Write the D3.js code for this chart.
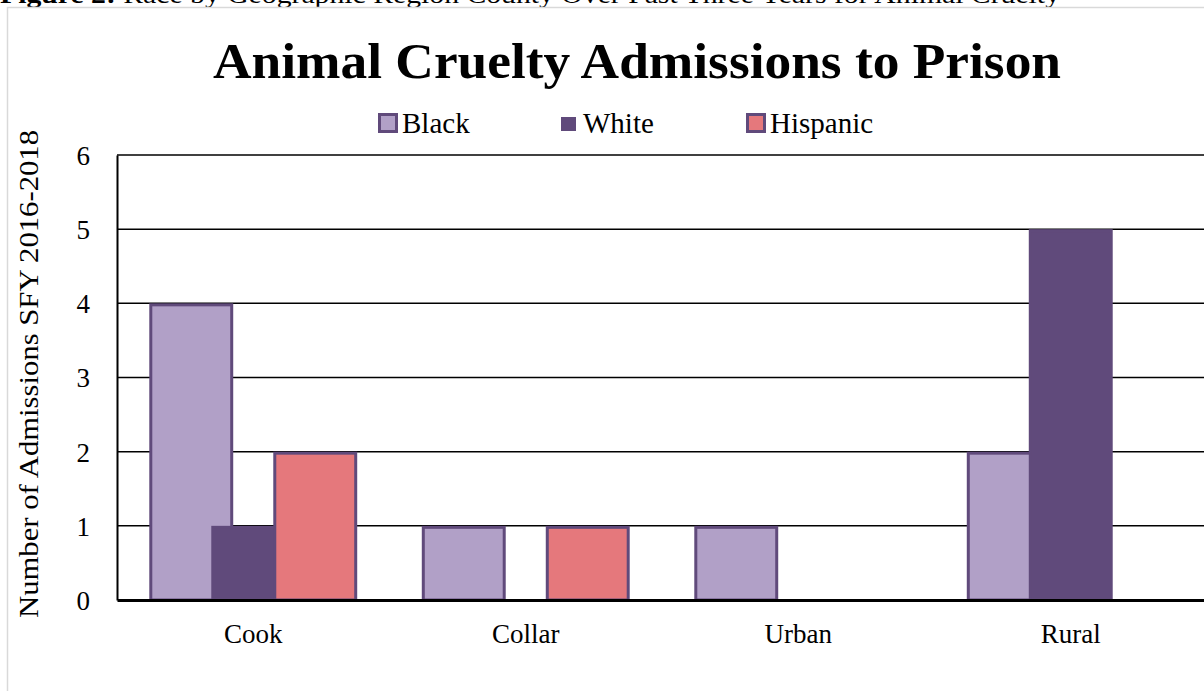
<!DOCTYPE html>
<html>
<head>
<meta charset="utf-8">
<script src="https://cdn.jsdelivr.net/npm/d3@7"></script>
<style>
  html, body { margin: 0; padding: 0; background: #fff; }
  svg { display: block; }
</style>
</head>
<body>
<svg id="chart" width="1204" height="691"></svg>
<script>
const categories = ["Cook", "Collar", "Urban", "Rural"];
const seriesNames = ["Black", "White", "Hispanic"];
const blackValues = [4, 1, 1, 2];
const whiteValues = [1, 0, 0, 5];
const hispanicValues = [2, 1, 0, 0];
const yTicks = [0, 1, 2, 3, 4, 5, 6];
const chartTitle = "Animal Cruelty Admissions to Prison";
const yAxisTitle = "Number of Admissions SFY 2016-2018";
const captionBold = "Figure 2:";
const captionRest = " Race by Geographic Region County Over Past Three Years for Animal Cruelty";

const seriesValues = [blackValues, whiteValues, hispanicValues];
const fills = ["#B1A0C7", "#604A7B", "#E5787C"];
const strokes = ["#604A7B", "#604A7B", "#604A7B"];

const svg = d3.select("#chart");
const serif = "'Liberation Serif', 'DejaVu Serif', serif";

// caption (cut at top, as in the source page)
const cap = svg.append("text")
  .attr("x", 0).attr("y", 3)
  .attr("font-family", serif).attr("font-size", 26)
  .attr("fill", "#000");
cap.append("tspan").attr("font-weight", "bold").text(captionBold);
cap.append("tspan").text(captionRest);
cap.attr("textLength", 1060).attr("lengthAdjust", "spacingAndGlyphs");

// chart frame
svg.append("rect")
  .attr("x", 7.5).attr("y", 7.5)
  .attr("width", 1220).attr("height", 720)
  .attr("fill", "none").attr("stroke", "#d9d9d9").attr("stroke-width", 1.5);

// title
svg.append("text")
  .attr("x", 637).attr("y", 78)
  .attr("text-anchor", "middle")
  .attr("font-family", serif).attr("font-weight", "bold").attr("font-size", 50)
  .attr("textLength", 848).attr("lengthAdjust", "spacingAndGlyphs")
  .text(chartTitle);

// scales
const x = d3.scaleBand().domain(categories).range([117, 1207]).padding(0);
const y = d3.scaleLinear().domain([0, 6]).range([600, 155]);
const bw = x.bandwidth();
const barW = bw * 0.308;
const step = bw * 0.2275;

// gridlines
svg.append("g").selectAll("line").data(yTicks.filter(d => d > 0)).join("line")
  .attr("x1", 117).attr("x2", 1204)
  .attr("y1", d => y(d)).attr("y2", d => y(d))
  .attr("stroke", "#000").attr("stroke-width", 1.5);

// bars
seriesNames.forEach((s, i) => {
  svg.append("g").selectAll("rect")
    .data(categories.map((c, j) => ({ c, v: seriesValues[i][j] })).filter(d => d.v > 0))
    .join("rect")
    .attr("x", d => x(d.c) + bw / 2 + (i - 1) * step - barW / 2 + 1.5)
    .attr("y", d => y(d.v) + 1.5)
    .attr("width", barW - 3)
    .attr("height", d => y(0) - y(d.v) - 1.5)
    .attr("fill", fills[i])
    .attr("stroke", strokes[i])
    .attr("stroke-width", 3);
});

// y axis
const yAxis = d3.axisLeft(y).tickValues(yTicks).tickSize(0).tickPadding(27).tickFormat(d3.format("d"));
const gy = svg.append("g").attr("transform", "translate(117,0)").call(yAxis);
gy.select(".domain").attr("stroke", "#000").attr("stroke-width", 2);
gy.selectAll("text").attr("font-family", serif).attr("font-size", 27).attr("fill", "#000").attr("dy", "0.35em");

// x axis
const xAxis = d3.axisBottom(x).tickSize(0).tickPadding(24);
const gx = svg.append("g").attr("transform", "translate(0,600)").call(xAxis);
gx.select(".domain").attr("stroke", "#000").attr("stroke-width", 3);
gx.selectAll("text").attr("font-family", serif).attr("font-size", 27).attr("fill", "#000");

// y title
svg.append("text")
  .attr("transform", "translate(38,374) rotate(-90)")
  .attr("text-anchor", "middle")
  .attr("font-family", serif).attr("font-size", 28)
  .attr("textLength", 488).attr("lengthAdjust", "spacingAndGlyphs")
  .text(yAxisTitle);

// legend
const legendX = [378, 561, 746];
const legend = svg.append("g");
seriesNames.forEach((s, i) => {
  const hasBorder = i !== 1;
  legend.append("rect")
    .attr("x", legendX[i] + (hasBorder ? 1.5 : 0))
    .attr("y", hasBorder ? 114.5 : 117)
    .attr("width", hasBorder ? 17 : 15)
    .attr("height", hasBorder ? 17 : 14)
    .attr("fill", fills[i])
    .attr("stroke", hasBorder ? strokes[i] : "none")
    .attr("stroke-width", 3);
  legend.append("text")
    .attr("x", legendX[i] + (hasBorder ? 24 : 22)).attr("y", 133)
    .attr("font-family", serif).attr("font-size", 29)
    .text(s);
});
</script>
</body>
</html>
